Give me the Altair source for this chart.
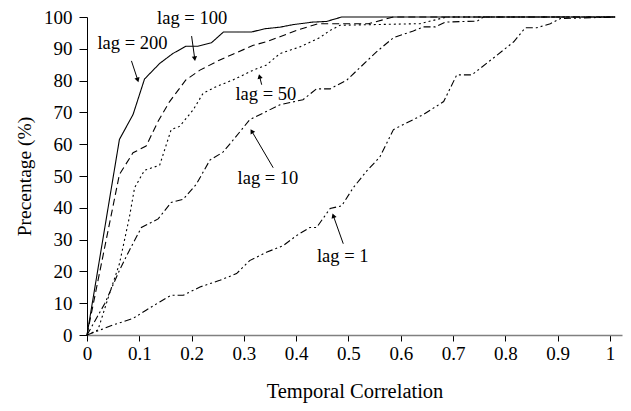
import math
import altair as alt
import pandas as pd

# ---- data ----
lags = ["lag = 200", "lag = 100", "lag = 50", "lag = 10", "lag = 1"]

x200 = [0, 0.062, 0.088, 0.110, 0.139, 0.164, 0.189, 0.212, 0.238, 0.261, 0.315, 0.340, 0.369, 0.394, 0.432, 0.458, 0.487, 1.01]
y200 = [0, 61.5, 69.3, 80.5, 85.4, 88.5, 90.8, 90.8, 91.9, 95.3, 95.3, 96.3, 96.8, 97.6, 98.4, 98.6, 100, 100]

x100 = [0, 0.062, 0.088, 0.113, 0.136, 0.158, 0.189, 0.216, 0.254, 0.279, 0.318, 0.343, 0.369, 0.401, 0.442, 0.538, 0.586, 1.01]
y100 = [0, 50.5, 57.3, 59.4, 67.2, 73.4, 80.2, 83.3, 86.5, 88.3, 91.1, 92.2, 93.8, 95.8, 97.9, 97.9, 100, 100]

x50 = [0, 0.021, 0.043, 0.062, 0.081, 0.091, 0.110, 0.139, 0.161, 0.177, 0.203, 0.222, 0.247, 0.279, 0.318, 0.343, 0.369, 0.407, 0.445, 0.465, 0.484, 0.637, 0.688, 1.01]
y50 = [0, 1.6, 13, 22.4, 37, 46.3, 51.8, 53.4, 64.6, 65.6, 70.8, 76, 78.1, 80.2, 83.3, 84.9, 88.5, 90.6, 93.5, 95.8, 97.4, 97.9, 100, 100]

x10 = [0, 0.034, 0.062, 0.081, 0.104, 0.136, 0.161, 0.184, 0.209, 0.235, 0.260, 0.283, 0.311, 0.343, 0.369, 0.413, 0.439, 0.465, 0.497, 0.554, 0.586, 0.624, 0.643, 0.666, 0.685, 0.746, 0.758, 1.01]
y10 = [0, 9.9, 20.3, 26.6, 33.8, 36.5, 41.7, 42.7, 47.4, 55, 57.5, 62, 67.7, 70.3, 72.4, 74, 77.4, 77.4, 80.2, 89.1, 93.5, 95.6, 96.9, 96.9, 98.4, 98.7, 100, 100]

x1 = [0, 0.049, 0.088, 0.113, 0.139, 0.161, 0.184, 0.216, 0.254, 0.286, 0.311, 0.343, 0.375, 0.401, 0.426, 0.439, 0.465, 0.487, 0.509, 0.535, 0.560, 0.586, 0.605, 0.643, 0.682, 0.707, 0.736, 0.784, 0.816, 0.838, 0.860, 0.886, 0.905, 1.01]
y1 = [0, 3.1, 5.2, 7.8, 10.4, 12.5, 12.5, 15.1, 17.2, 19.3, 23.4, 26, 28.1, 31.3, 33.8, 33.8, 39.8, 40.6, 46.3, 51.6, 56, 64.6, 66.2, 69.3, 73.4, 81.8, 81.8, 88, 92.2, 96.6, 96.6, 97.9, 99.5, 100]

x_ticks = [0, 0.1, 0.2, 0.3, 0.4, 0.5, 0.6, 0.7, 0.8, 0.9, 1]
y_ticks = [0, 10, 20, 30, 40, 50, 60, 70, 80, 90, 100]

# annotation labels and arrows (data units)
ann_text = ["lag = 100", "lag = 200", "lag = 50", "lag = 10", "lag = 1"]
ann_tx = [0.201, 0.087, 0.342, 0.346, 0.489]
ann_ty = [99.6, 91.7, 75.9, 49.4, 24.7]
arr_x0 = [0.200, 0.085, 0.334, 0.356, 0.490]
arr_y0 = [94.0, 86.2, 78.7, 52.6, 28.7]
arr_x1 = [0.206, 0.097, 0.330, 0.315, 0.471]
arr_y1 = [86.9, 80.2, 81.3, 64.1, 37.5]

# ---- build tables ----
series = [(lags[0], x200, y200), (lags[1], x100, y100), (lags[2], x50, y50),
          (lags[3], x10, y10), (lags[4], x1, y1)]
rows = []
for name, xs, ys in series:
    for xv, yv in zip(xs, ys):
        rows.append({"lag": name, "x": xv, "y": yv})
df = pd.DataFrame(rows)

W, H = 535, 318
XMAX = 1.023
sx, sy = W / XMAX, H / 100.0
angles = []
for a, b, c, d in zip(arr_x0, arr_y0, arr_x1, arr_y1):
    dx = (c - a) * sx
    dy = -(d - b) * sy
    angles.append(math.degrees(math.atan2(dx, -dy)) % 360)
ann = pd.DataFrame({"text": ann_text, "tx": ann_tx, "ty": ann_ty,
                    "x0": arr_x0, "y0": arr_y0, "x1": arr_x1, "y1": arr_y1,
                    "ang": angles})

FONT = "Liberation Serif"
xscale = alt.Scale(domain=[0, XMAX], nice=False, zero=False)
yscale = alt.Scale(domain=[0, 100], nice=False)

X_AXIS = alt.Axis(
    values=x_ticks, format="~g", title="Temporal Correlation", grid=False,
    domainColor="#808080", domainWidth=1.5, tickColor="black", tickSize=6,
    labelFlush=False, labelPadding=3, labelOverlap=False, titlePadding=18,
    titleFontSize=20.5)
Y_AXIS = alt.Axis(
    values=y_ticks, title="Precentage (%)", grid=False,
    domainColor="black", domainWidth=1, tickColor="black", tickSize=8,
    labelFlush=False, labelPadding=7, labelOverlap=False, titlePadding=9,
    titleFontSize=19.5)

lines = alt.Chart(df).mark_line(color="black", strokeWidth=1.1).encode(
    x=alt.X("x:Q", scale=xscale, axis=X_AXIS),
    y=alt.Y("y:Q", scale=yscale, axis=Y_AXIS),
    strokeDash=alt.StrokeDash("lag:N", scale=alt.Scale(
        domain=lags,
        range=[[1, 0], [7, 4], [2, 3], [7, 3, 2, 3], [7, 3, 2, 3, 2, 3]]),
        legend=None),
    order="x:Q",
)

texts = alt.Chart(ann).mark_text(font=FONT, fontSize=18.5, color="black",
                                 align="center", baseline="middle").encode(
    x=alt.X("tx:Q", scale=xscale, axis=X_AXIS),
    y=alt.Y("ty:Q", scale=yscale, axis=Y_AXIS), text="text:N")

shafts = alt.Chart(ann).mark_rule(color="black", strokeWidth=1).encode(
    x=alt.X("x0:Q", scale=xscale, axis=X_AXIS),
    y=alt.Y("y0:Q", scale=yscale, axis=Y_AXIS),
    x2="x1:Q", y2="y1:Q")

heads = alt.Chart(ann).mark_point(shape="triangle-up", filled=True,
                                  color="black", size=28, opacity=1).encode(
    x=alt.X("x1:Q", scale=xscale, axis=X_AXIS),
    y=alt.Y("y1:Q", scale=yscale, axis=Y_AXIS),
    angle=alt.Angle("ang:Q", scale=None))

chart = alt.layer(lines, shafts, heads, texts).properties(
    width=W, height=H,
    background="white",
    autosize=alt.AutoSizeParams(type="none"),
    padding={"left": 79, "top": 9, "right": 1, "bottom": 68},
).configure_view(stroke=None).configure_axis(
    labelFont=FONT, labelFontSize=19, labelColor="black",
    titleFont=FONT, titleFontWeight="normal", titleColor="black",
)

chart.save("out.html", embed_options={"renderer": "svg", "actions": False})
